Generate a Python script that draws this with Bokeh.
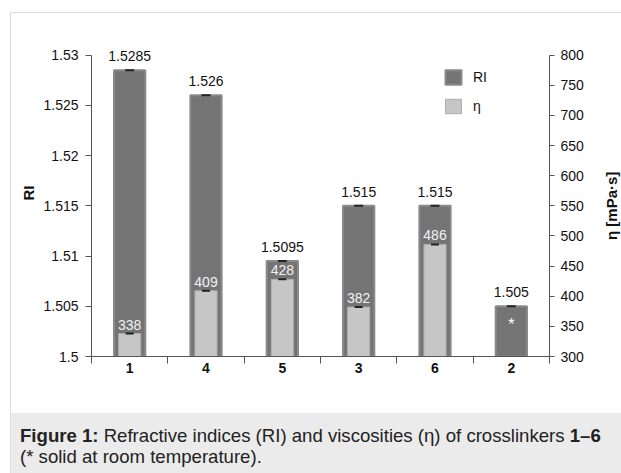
import math
from bokeh.plotting import figure
from bokeh.models import (Range1d, LinearAxis, FixedTicker, Legend, LegendItem, Div, ColumnDataSource)
from bokeh.layouts import column, row
from bokeh.core.properties import value
from bokeh.embed import file_html
from bokeh.resources import INLINE

# ---- data ----
categories = ["1", "4", "5", "3", "6", "2"]
ri_values = [1.5285, 1.526, 1.5095, 1.515, 1.515, 1.505]
ri_labels = ["1.5285", "1.526", "1.5095", "1.515", "1.515", "1.505"]
eta_categories = ["1", "4", "5", "3", "6"]
eta_values = [338, 409, 428, 382, 486]
eta_labels = ["338", "409", "428", "382", "486"]
solid_categories = ["2"]
solid_mark = ["*"]
ri_ticks = [1.5, 1.505, 1.51, 1.515, 1.52, 1.525, 1.53]
ri_tick_labels = ["1.5", "1.505", "1.51", "1.515", "1.52", "1.525", "1.53"]
eta_ticks = [300, 350, 400, 450, 500, 550, 600, 650, 700, 750, 800]
eta_tick_labels = ["300", "350", "400", "450", "500", "550", "600", "650", "700", "750", "800"]
ri_title = "RI"
eta_title = "η [mPa·s]"
ri_base = 1.5
eta_base = 300

FONT = "Liberation Sans"
RI_COLOR = "#747474"
RI_LINE = "#8a8a8a"
ETA_COLOR = "#c6c6c6"
ETA_LINE = "#adadad"
AX = "#555555"

# axis extents; the plotting area gets headroom above the top tick for the value labels
ri_lo, ri_hi = ri_ticks[0], ri_ticks[-1]
eta_lo, eta_hi = eta_ticks[0], eta_ticks[-1]
head = 0.085  # fraction of the axis span added as headroom
ri_top = ri_hi + head * (ri_hi - ri_lo)
eta_top = eta_hi + head * (eta_hi - eta_lo)
eta_range = Range1d(eta_lo, eta_top)

pos = {c: i + 0.5 for i, c in enumerate(categories)}
ri_x = [pos[c] for c in categories]
eta_x = [pos[c] for c in eta_categories]
solid_x = [pos[c] for c in solid_categories]
solid_y = [(ri_base + ri_values[categories.index(c)]) / 2 for c in solid_categories]

BT, BB = 16, 57
p = figure(width=590, height=400, output_backend="svg", toolbar_location=None,
           x_range=Range1d(0, len(categories)), y_range=Range1d(ri_lo, ri_top),
           min_border_left=80, min_border_right=52, min_border_top=BT, min_border_bottom=BB)
p.extra_y_ranges = {"eta": eta_range}
p.grid.visible = False
p.outline_line_color = None
p.background_fill_color = "white"
p.border_fill_color = "white"

ri_src = ColumnDataSource(dict(x=ri_x, top=ri_values, lab=ri_labels))
eta_src = ColumnDataSource(dict(x=eta_x, top=eta_values, lab=eta_labels))

r_ri = p.vbar(x="x", top="top", bottom=ri_base, width=0.41, source=ri_src,
              fill_color=RI_COLOR, line_color=RI_LINE, line_width=2)
r_eta = p.vbar(x="x", top="top", bottom=eta_base, width=0.29, source=eta_src,
               fill_color=ETA_COLOR, line_color=ETA_LINE, line_width=1, y_range_name="eta")

# error caps
p.scatter(x="x", y="top", source=ri_src, marker="dash", size=9, line_color="#222222", line_width=2)
p.scatter(x="x", y="top", source=eta_src, marker="dash", size=8, line_color="#222222", line_width=2,
          y_range_name="eta")

# value labels
p.text(x="x", y="top", text="lab", source=ri_src, text_align="center", text_baseline="bottom",
       y_offset=-9, text_font=value(FONT), text_font_size="14px", text_color="#111111")
p.text(x="x", y="top", text="lab", source=eta_src, text_align="center", text_baseline="bottom",
       y_offset=-4, text_font=value(FONT), text_font_size="14px", text_color="#f2f2f2",
       y_range_name="eta")
p.text(x=solid_x, y=solid_y, text=solid_mark, text_align="center", text_baseline="middle",
       y_offset=-7, text_font=value(FONT), text_font_size="16px", text_color="#ffffff")

# axes
xa = p.xaxis[0]
xa.ticker = FixedTicker(ticks=ri_x, minor_ticks=list(range(len(categories) + 1)))
xa.major_label_overrides = {x: c for x, c in zip(ri_x, categories)}
xa.major_tick_out = 0
xa.major_tick_in = 0
xa.minor_tick_out = 7
xa.minor_tick_in = 0
xa.major_label_standoff = -1
xa.major_label_text_font = FONT
xa.major_label_text_font_size = "14px"
xa.major_label_text_font_style = "bold"
xa.major_label_text_color = "#111111"

ya = p.yaxis[0]
ya.ticker = FixedTicker(ticks=ri_ticks, minor_ticks=[])
ya.major_label_overrides = {t: l for t, l in zip(ri_ticks, ri_tick_labels)}
ya.bounds = (ri_lo, ri_hi)
ya.axis_label = ri_title
ya.axis_label_standoff = 3

ra = LinearAxis(y_range_name="eta", ticker=FixedTicker(ticks=eta_ticks, minor_ticks=[]),
                bounds=(eta_lo, eta_hi))
ra.major_label_overrides = {t: l for t, l in zip(eta_ticks, eta_tick_labels)}
p.add_layout(ra, "right")

for ax in (xa, ya, ra):
    ax.axis_line_color = AX
    ax.major_tick_line_color = AX
    ax.minor_tick_line_color = AX
    ax.axis_label_text_font = FONT
    ax.axis_label_text_font_size = "15px"
    ax.axis_label_text_font_style = "bold"
    ax.axis_label_text_color = "#111111"
for ax in (ya, ra):
    ax.major_tick_out = 6 if ax is ya else 5
    ax.major_tick_in = 0
    ax.minor_tick_out = 0
    ax.minor_tick_in = 0
    ax.major_label_standoff = 7 if ax is ya else 6
    ax.major_label_text_font = FONT
    ax.major_label_text_font_size = "14px"
    ax.major_label_text_color = "#111111"

legend = Legend(items=[LegendItem(label="RI", renderers=[r_ri]),
                       LegendItem(label="η", renderers=[r_eta])],
                location=(352, 241), orientation="vertical", padding=0, margin=0,
                spacing=11, glyph_width=20, glyph_height=18, label_height=18,
                label_standoff=10, border_line_color=None, background_fill_alpha=0,
                label_text_font=FONT, label_text_font_size="14px", label_text_color="#111111")
p.add_layout(legend)

# right axis title (reads bottom-to-top), in a narrow strip sharing the eta scale
t = figure(width=20, height=400, output_backend="svg", toolbar_location=None,
           x_range=Range1d(0, 1), y_range=eta_range,
           min_border_left=0, min_border_right=0, min_border_top=BT, min_border_bottom=BB)
t.axis.visible = False
t.grid.visible = False
t.outline_line_color = None
t.background_fill_color = "white"
t.border_fill_color = "white"
t.text(x=[0.5], y=[(eta_lo + eta_hi) / 2], text=[eta_title], angle=math.pi / 2,
       text_align="center", text_baseline="middle", text_font=value(FONT),
       text_font_size="15px", text_font_style="bold", text_color="#111111")

cap = Div(text="<b>Figure 1:</b> Refractive indices (RI) and viscosities (η) of crosslinkers <b>1–6</b><br>(* solid at room temperature).",
          width=610, height=60, margin=0,
          styles={"background-color": "#ebebeb", "font-family": FONT, "font-size": "18.6px",
                  "line-height": "21px", "color": "#222222", "padding": "12px 0px 0px 9px",
                  "box-sizing": "border-box", "white-space": "nowrap", "overflow": "hidden"})

layout = column(row(p, t, spacing=0), cap, spacing=0, margin=(12, 0, 0, 10),
                styles={"border-left": "1px solid #dcdcdc", "border-top": "1px solid #dcdcdc"})

open("out.html", "w").write(file_html(layout, INLINE))
